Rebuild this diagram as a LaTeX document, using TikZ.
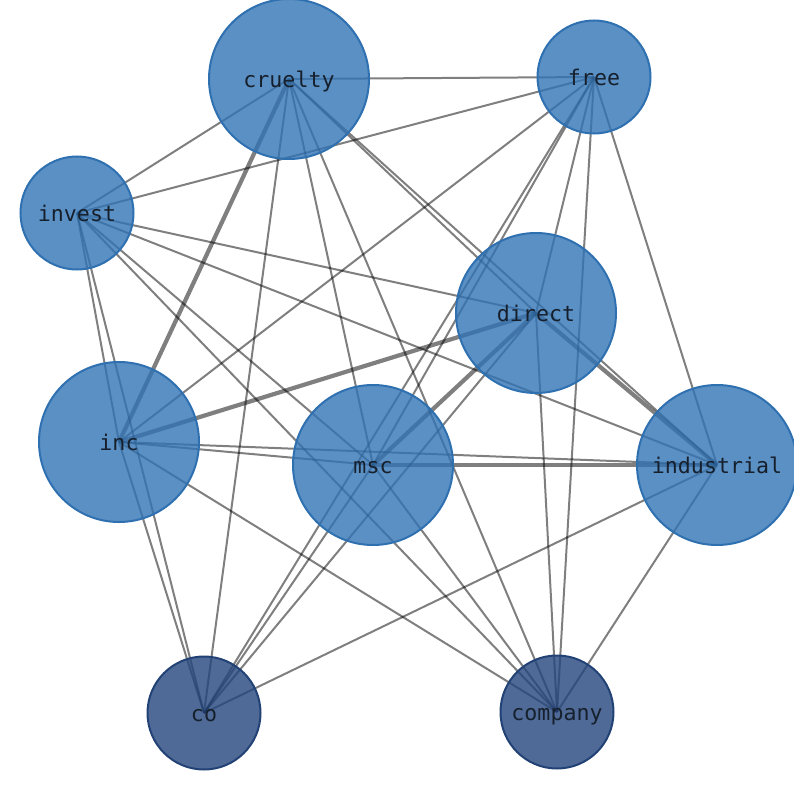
\documentclass[tikz,border=0pt]{standalone}
\usepackage{fontspec}
\setmonofont{DejaVu Sans Mono}
\usetikzlibrary{backgrounds}
\definecolor{lightfill}{RGB}{50,116,181}
\definecolor{lightborder}{RGB}{47,112,176}
\definecolor{darkfill}{RGB}{35,69,125}
\definecolor{darkborder}{RGB}{34,66,118}
\definecolor{labelcol}{RGB}{22,32,45}
\tikzset{
  netnode/.style={circle, inner sep=0pt, fill opacity=0.8, text opacity=1,
    line width=2bp, text=labelcol, text height=21.4bp, text depth=5.2bp,
    font=\ttfamily\fontsize{21.6bp}{24bp}\selectfont},
  bignode/.style={netnode, minimum size=160bp, fill=lightfill, draw=lightborder},
  smallnode/.style={netnode, minimum size=113bp, fill=lightfill, draw=lightborder},
  darknode/.style={netnode, minimum size=113bp, fill=darkfill, draw=darkborder},
  edge/.style={draw=black, draw opacity=0.5, line width=2bp},
  heavyedge/.style={draw=black, draw opacity=0.5, line width=4.2bp}
}
\begin{document}
\begin{tikzpicture}[x=1bp,y=-1bp]
\useasboundingbox (0,0) rectangle (794,790);
\node[bignode] (cruelty) at (289,79) {cruelty};
\node[smallnode] (free) at (594,77) {free};
\node[smallnode] (invest) at (77,213) {invest};
\node[bignode] (direct) at (536,313) {direct};
\node[bignode] (inc) at (119,442) {inc};
\node[bignode] (msc) at (373,465) {msc};
\node[bignode] (industrial) at (717,465) {industrial};
\node[darknode] (co) at (204,713) {co};
\node[darknode] (company) at (557,712) {company};
\begin{pgfonlayer}{background}
% cruelty
\draw[edge] (cruelty.center) -- (free.center);
\draw[edge] (cruelty.center) -- (invest.center);
\draw[heavyedge] (cruelty.center) -- (inc.center);
\draw[edge] (cruelty.center) -- (co.center);
\draw[edge] (cruelty.center) -- (msc.center);
\draw[edge] (cruelty.center) -- (company.center);
\draw[edge] (cruelty.center) -- (direct.center);
\draw[edge] (cruelty.center) -- (industrial.center);
% free
\draw[edge] (free.center) -- (invest.center);
\draw[edge] (free.center) -- (inc.center);
\draw[edge] (free.center) -- (msc.center);
\draw[edge] (free.center) -- (co.center);
\draw[edge] (free.center) -- (direct.center);
\draw[edge] (free.center) -- (company.center);
\draw[edge] (free.center) -- (industrial.center);
% invest
\draw[edge] (invest.center) -- (direct.center);
\draw[edge] (invest.center) -- (industrial.center);
\draw[edge] (invest.center) -- (msc.center);
\draw[edge] (invest.center) -- (company.center);
\draw[edge] (invest.center) -- (inc.center);
\draw[edge] (invest.center) -- (co.center);
% direct
\draw[heavyedge] (direct.center) -- (inc.center);
\draw[heavyedge] (direct.center) -- (msc.center);
\draw[heavyedge] (direct.center) -- (industrial.center);
\draw[edge] (direct.center) -- (co.center);
\draw[edge] (direct.center) -- (company.center);
% inc
\draw[edge] (inc.center) -- (msc.center);
\draw[edge] (inc.center) -- (industrial.center);
\draw[edge] (inc.center) -- (co.center);
\draw[edge] (inc.center) -- (company.center);
% msc
\draw[heavyedge] (msc.center) -- (industrial.center);
\draw[edge] (msc.center) -- (co.center);
\draw[edge] (msc.center) -- (company.center);
% industrial
\draw[edge] (industrial.center) -- (co.center);
\draw[edge] (industrial.center) -- (company.center);
\end{pgfonlayer}
\end{tikzpicture}
\end{document}
